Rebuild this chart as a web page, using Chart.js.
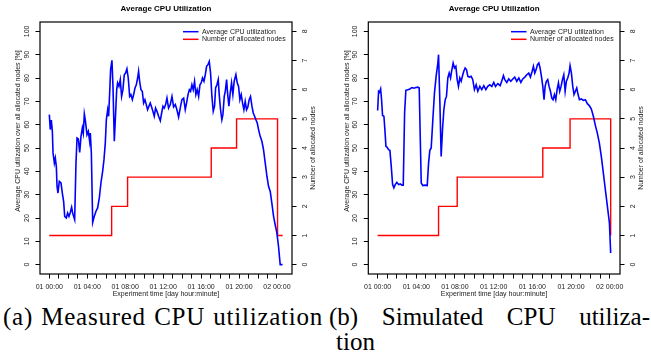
<!DOCTYPE html>
<html>
<head>
<meta charset="utf-8">
<script src="https://cdn.jsdelivr.net/npm/chart.js@4.4.1/dist/chart.umd.min.js"></script>
<style>
  html, body { margin: 0; padding: 0; background: #fff; }
  body { width: 651px; height: 364px; position: relative; overflow: hidden; }
  .plot { position: absolute; top: 0; height: 300px; }
  #wrapA { left: 0; width: 325px; }
  #wrapB { left: 325px; width: 326px; }
  .cap { position: absolute; font-family: "Liberation Serif", serif; font-size: 25px; line-height: 28px; color: #000; white-space: nowrap; }
  .just { display: flex; justify-content: space-between; }
  #capA { left: 3px; top: 303px; width: 320px; letter-spacing: 0.75px; }
  #capB1 { left: 329px; top: 303px; width: 321px; }
  #capB2 { left: 336px; top: 328px; }
</style>
</head>
<body>
<div class="plot" id="wrapA"><canvas id="chartA" width="325" height="300"></canvas></div>
<div class="plot" id="wrapB"><canvas id="chartB" width="326" height="300"></canvas></div>
<div class="cap just" id="capA"><span>(a)</span><span>Measured</span><span>CPU</span><span>utilization</span></div>
<div class="cap just" id="capB1"><span>(b)</span><span>Simulated</span><span>CPU</span><span>utiliza-</span></div>
<div class="cap" id="capB2">tion</div>
<script>
// axis ticks
const xTickHours = [0, 4, 8, 12, 16, 20, 24];
const xTickLabels = ['01 00:00', '01 04:00', '01 08:00', '01 12:00', '01 16:00', '01 20:00', '02 00:00'];
const xMinorHours = [0, 1, 2, 3, 4, 5, 6, 7, 8, 9, 10, 11, 12, 13, 14, 15, 16, 17, 18, 19, 20, 21, 22, 23, 24];
const cpuTicks = [0, 10, 20, 30, 40, 50, 60, 70, 80, 90, 100];
const nodeTicks = [0, 1, 2, 3, 4, 5, 6, 7, 8];

// (a) measured
const measHours = [
  0, 0.1, 0.21, 0.32, 0.39, 0.53, 0.63, 0.74, 0.81, 0.91,
  1.05, 1.23, 1.37, 1.51, 1.62, 1.79, 1.93, 2.07, 2.21, 2.35,
  2.46, 2.56, 2.67, 2.81, 2.92, 3.06, 3.2, 3.34, 3.48, 3.58,
  3.69, 3.79, 3.97, 4.11, 4.25, 4.32, 4.43, 4.57, 4.74, 4.92,
  5.09, 5.27, 5.44, 5.62, 5.76, 5.9, 6.01, 6.15, 6.25, 6.36,
  6.46, 6.6, 6.71, 6.85, 6.99, 7.1, 7.2, 7.34, 7.48, 7.62,
  7.76, 7.9, 8.04, 8.18, 8.32, 8.47, 8.6, 8.75, 8.89, 9.03,
  9.17, 9.31, 9.41, 9.52, 9.66, 9.8, 9.94, 10.08, 10.22, 10.36,
  10.5, 10.64, 10.78, 10.92, 11.06, 11.2, 11.35, 11.52, 11.7, 11.84,
  11.98, 12.12, 12.26, 12.4, 12.57, 12.75, 12.93, 13.1, 13.28, 13.45,
  13.63, 13.8, 13.98, 14.16, 14.33, 14.47, 14.62, 14.76, 14.89, 15.03,
  15.17, 15.31, 15.45, 15.59, 15.74, 15.88, 16.01, 16.15, 16.3, 16.44,
  16.58, 16.72, 16.86, 17.0, 17.14, 17.28, 17.42, 17.53, 17.67, 17.81,
  17.91, 18.05, 18.19, 18.3, 18.44, 18.55, 18.69, 18.79, 18.93, 19.07,
  19.21, 19.35, 19.49, 19.67, 19.81, 19.95, 20.09, 20.23, 20.37, 20.51,
  20.65, 20.79, 20.93, 21.07, 21.21, 21.36, 21.5, 21.64, 21.78, 21.92,
  22.06, 22.23, 22.41, 22.58, 22.76, 22.94, 23.11, 23.29, 23.46, 23.64,
  23.81, 23.99, 24.16, 24.34, 24.59
];
const measCpu = [
  64.3, 57.9, 62, 57, 47.9, 43.6, 45.7, 42, 33.6, 30.7,
  35.7, 35, 30.7, 27, 20.7, 20, 22.1, 20.7, 22.4, 24.6,
  22.1, 20.7, 19.3, 43.6, 54.3, 53.9, 48.1, 55, 58.6, 56.4,
  64.6, 62.1, 55.7, 57.1, 52.9, 56.4, 47.9, 18.1, 20.7, 22.9,
  24.3, 28.6, 35, 40, 45, 52.1, 62.1, 66.4, 63.6, 73.6,
  83.6, 87.6, 76.4, 52.9, 65, 75, 77.9, 76.4, 79.3, 72.1,
  75, 81.4, 82.1, 83.9, 80, 72.1, 72.9, 70.7, 72.9, 75.7,
  77.1, 80, 82.9, 78.6, 75, 74.3, 69.3, 70.7, 68.6, 66.4,
  67.9, 69.3, 67.6, 65.7, 63.6, 67.1, 65.7, 63.6, 61.7, 65,
  67.9, 67.1, 68.6, 71.4, 67.1, 68.6, 72.1, 67.6, 68.6, 66.4,
  63.3, 67.1, 70.7, 71.4, 66.4, 69.3, 72.9, 75, 74.3, 77.1,
  75, 78.6, 72.9, 75, 72.1, 77.1, 77.9, 80, 78.6, 81.4,
  85, 85.7, 87.1, 82.1, 72.1, 65.7, 67.9, 75.7, 77.1, 79.3,
  72.9, 66.4, 62.1, 64.3, 72.1, 74.3, 79.3, 73.6, 67.9, 73.6,
  77.9, 72.9, 78.6, 81.4, 77.9, 76.4, 70.7, 72.9, 69.3, 66.4,
  70, 66.4, 67.6, 70.7, 72.1, 67.9, 65, 63.6, 62.1, 60.7,
  57.9, 55, 52.9, 49.3, 43.6, 37.9, 33.6, 31.4, 26.4, 20.7,
  17.1, 13.6, 7.9, 0, 0
];
const measNodeHours = [0, 6.57, 8.25, 17.07, 19.74, 24.06, 24.6];
const measNodes = [1, 2, 3, 4, 5, 1, 1];

// (b) simulated
const simHours = [
  0, 0.1, 0.2, 0.31, 0.41, 0.51, 0.65, 0.75, 0.86, 0.99,
  1.13, 1.27, 1.41, 1.55, 1.68, 1.82, 1.99, 2.17, 2.34, 2.51,
  2.65, 2.79, 2.92, 3.13, 3.34, 3.54, 3.75, 3.96, 4.16, 4.3,
  4.51, 4.68, 4.89, 5.13, 5.27, 5.4, 5.54, 5.71, 5.88, 6.05,
  6.23, 6.3, 6.44, 6.57, 6.71, 6.85, 6.99, 7.12, 7.26, 7.4,
  7.54, 7.68, 7.81, 7.95, 8.09, 8.23, 8.36, 8.5, 8.64, 8.78,
  8.91, 9.05, 9.19, 9.33, 9.5, 9.67, 9.84, 10.01, 10.19, 10.36,
  10.57, 10.77, 10.98, 11.19, 11.39, 11.6, 11.81, 12.01, 12.19, 12.43,
  12.67, 12.88, 13.01, 13.15, 13.36, 13.56, 13.77, 13.98, 14.18, 14.39,
  14.6, 14.81, 15.01, 15.22, 15.43, 15.63, 15.8, 15.98, 16.11, 16.25,
  16.39, 16.53, 16.67, 16.8, 16.94, 17.08, 17.21, 17.32, 17.45, 17.59,
  17.73, 17.87, 18.01, 18.14, 18.28, 18.42, 18.56, 18.7, 18.83, 18.97,
  19.11, 19.25, 19.39, 19.52, 19.66, 19.8, 19.9, 20.04, 20.18, 20.31,
  20.45, 20.59, 20.73, 20.87, 21.07, 21.28, 21.48, 21.69, 21.9, 22.1,
  22.31, 22.52, 22.72, 22.93, 23.13, 23.34, 23.55, 23.76, 23.97, 24.1
];
const simCpu = [
  66.1, 74.3, 73.9, 75.3, 70.7, 63.9, 63.6, 57.9, 50.7, 50.3,
  49.3, 49, 42.1, 34.3, 32.9, 34.3, 35.3, 34.3, 34.6, 34.1,
  34.1, 65, 74.7, 75, 75.3, 75.9, 75.6, 75.9, 76.1, 75.7,
  35, 33.9, 34.1, 33.9, 43.6, 49, 50, 62.1, 73.6, 80.7,
  86.4, 90, 69.3, 46.4, 57.9, 66.4, 70.7, 72.1, 80, 82.1,
  80, 83.6, 86.4, 84.3, 85, 79.3, 76.4, 80, 78.6, 81,
  82.9, 84.3, 83.6, 80.7, 80.4, 80.7, 79.3, 75, 77.1, 74.3,
  76.4, 75, 76.7, 75, 76.4, 77.1, 76.4, 78.1, 76.4, 77.6,
  76.7, 79.3, 81, 79.3, 78.1, 79.6, 78.6, 79.6, 80.4, 78.6,
  80, 78.1, 79.6, 80.4, 81.4, 82.1, 80.4, 82.9, 85, 82.1,
  83.6, 85.7, 86.4, 84.3, 80.7, 76.4, 70.7, 76.4, 78.6, 79.3,
  76.4, 74.3, 71.4, 70.7, 72.9, 70.7, 75, 77.9, 74.3, 76.4,
  79.3, 81.4, 74.3, 78.6, 80, 82.1, 85.3, 82.1, 76.4, 72.9,
  74.3, 75.7, 72.9, 70.7, 71, 70.4, 70.7, 69, 68.1, 66.7,
  63.6, 59.6, 56.4, 52.1, 46.4, 39.3, 32.1, 25, 17.9, 5
];
const simNodeHours = [0, 6.3, 8.23, 17.08, 19.9, 24.1];
const simNodes = [1, 2, 3, 4, 5, 1];

const FONT = '"Liberation Sans", Arial, sans-serif';
const TXT = '#222';

// R 风格的边框、旋转刻度、轴标题和图例
const rDecor = {
  id: 'rDecor',
  afterDraw(chart) {
    const ctx = chart.ctx;
    const a = chart.chartArea;
    const sy = chart.scales.y;
    const sy2 = chart.scales.y2;
    const rot = (t, x, y) => {
      ctx.save();
      ctx.translate(x, y);
      ctx.rotate(-Math.PI / 2);
      ctx.fillText(t, 0, 0);
      ctx.restore();
    };
    ctx.save();
    ctx.strokeStyle = '#000';
    ctx.lineWidth = 1.2;
    ctx.strokeRect(a.left, a.top, a.right - a.left, a.bottom - a.top);

    ctx.fillStyle = TXT;
    ctx.font = '7px ' + FONT;
    ctx.textAlign = 'center';
    ctx.textBaseline = 'middle';
    cpuTicks.forEach(v => rot(String(v), a.left - 13, sy.getPixelForValue(v)));
    nodeTicks.forEach(v => rot(String(v), a.right + 13.5, sy2.getPixelForValue(v)));
    rot('Average CPU utilization over all allocated nodes [%]', a.left - 21.7, (a.top + a.bottom) / 2 - 17);
    rot('Number of allocated nodes', a.right + 21.3, (a.top + a.bottom) / 2);

    // 图例（右上角）
    const lx = a.right - 90;
    ctx.textAlign = 'left';
    chart.data.datasets.forEach((ds, i) => {
      const y = a.top + 9.7 + i * 7.6;
      ctx.strokeStyle = ds.borderColor;
      ctx.lineWidth = 1.5;
      ctx.beginPath();
      ctx.moveTo(lx - 19, y);
      ctx.lineTo(lx - 3.5, y);
      ctx.stroke();
      ctx.fillText(ds.label, lx, y);
    });
    ctx.restore();
  }
};

function makeChart(id, hours, cpu, nodeHours, nodes, leftW, rightW) {
  const canvas = document.getElementById(id);
  const first = hours[0];
  const last = Math.max(hours[hours.length - 1], nodeHours[nodeHours.length - 1]);
  const pad = (last - first) * 0.04;
  const tickGrid = { display: true, drawOnChartArea: false, drawTicks: true, tickLength: 4.5, tickColor: '#000', tickWidth: 1 };

  return new Chart(canvas.getContext('2d'), {
    type: 'line',
    data: {
      datasets: [{
        label: 'Average CPU utilization',
        data: hours.map((h, i) => ({ x: h, y: cpu[i] })),
        borderColor: '#0000ff',
        borderWidth: 1.6,
        pointRadius: 0,
        tension: 0,
        yAxisID: 'y'
      }, {
        label: 'Number of allocated nodes',
        data: nodeHours.map((h, i) => ({ x: h, y: nodes[i] })),
        borderColor: '#ff0000',
        borderWidth: 1.4,
        pointRadius: 0,
        stepped: true,
        yAxisID: 'y2'
      }]
    },
    options: {
      responsive: false,
      animation: false,
      events: [],
      layout: { padding: 0 },
      plugins: {
        legend: { display: false },
        tooltip: { enabled: false },
        title: {
          display: true,
          fullSize: false,
          text: 'Average CPU Utilization',
          color: '#000',
          font: { family: FONT, size: 8, weight: 'bold', lineHeight: 1.2 },
          padding: { top: 4.2, bottom: 8.2 }
        }
      },
      scales: {
        x: {
          type: 'linear',
          position: 'bottom',
          min: first - pad,
          max: last + pad,
          afterBuildTicks: s => { s.ticks = xMinorHours.map(v => ({ value: v })); },
          afterFit: s => { s.height = 26; },
          grid: tickGrid,
          border: { display: false },
          ticks: {
            autoSkip: false, maxRotation: 0, minRotation: 0, padding: 4.6,
            color: TXT, font: { family: FONT, size: 7 },
            callback: v => { const i = xTickHours.indexOf(v); return i >= 0 ? xTickLabels[i] : ''; }
          },
          title: {
            display: true,
            text: 'Experiment time [day hour:minute]',
            color: TXT,
            font: { family: FONT, size: 7, lineHeight: 1.2 },
            padding: { top: 0, bottom: 1.3 }
          }
        },
        y: {
          type: 'linear',
          position: 'left',
          min: -4,
          max: 104,
          afterBuildTicks: s => { s.ticks = cpuTicks.map(v => ({ value: v })); },
          afterFit: s => { s.width = leftW; },
          grid: tickGrid,
          border: { display: false },
          ticks: { display: false }
        },
        y2: {
          type: 'linear',
          position: 'right',
          min: -0.32,
          max: 8.32,
          afterBuildTicks: s => { s.ticks = nodeTicks.map(v => ({ value: v })); },
          afterFit: s => { s.width = rightW; },
          grid: tickGrid,
          border: { display: false },
          ticks: { display: false }
        }
      }
    },
    plugins: [rDecor]
  });
}

makeChart('chartA', measHours, measCpu, measNodeHours, measNodes, 40, 33);
makeChart('chartB', simHours, simCpu, simNodeHours, simNodes, 43.3, 31);
</script>
</body>
</html>
